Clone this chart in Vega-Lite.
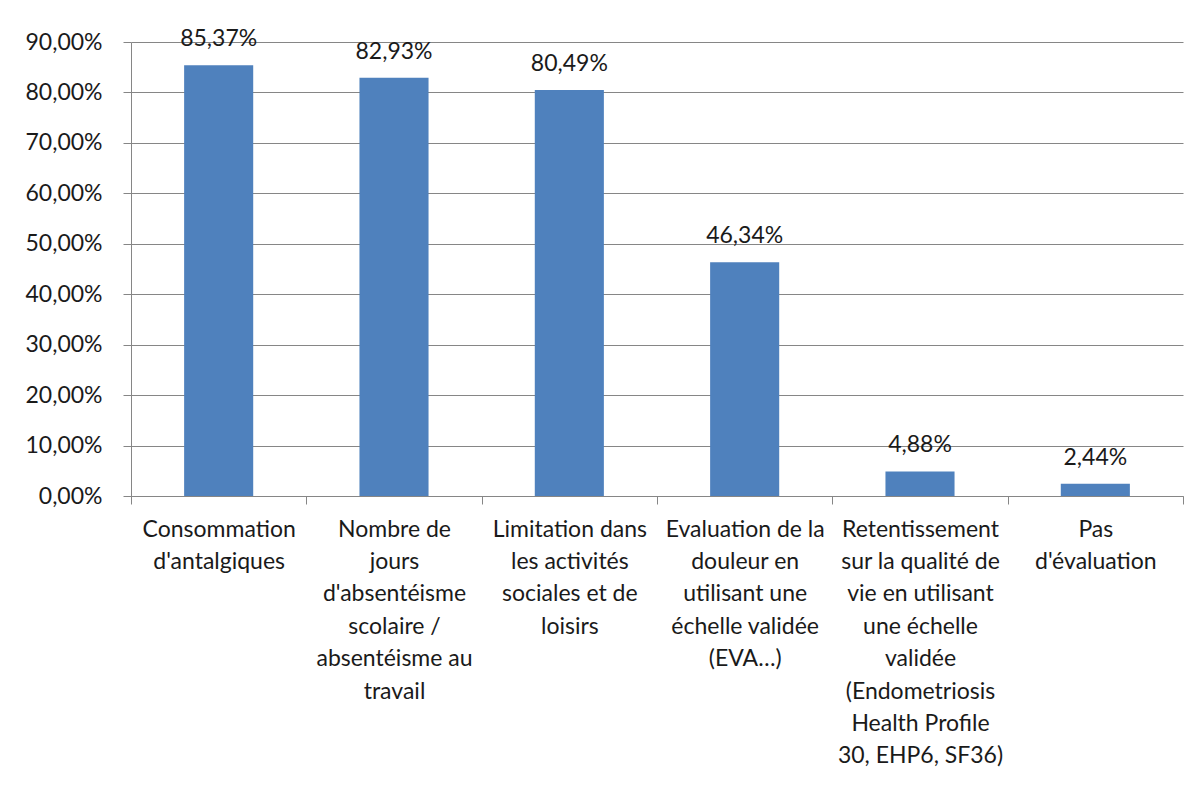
{
  "$schema": "https://vega.github.io/schema/vega-lite/v6.json",
  "autosize": {"type": "none"},
  "padding": {"left": 131, "top": 42, "right": 16, "bottom": 289},
  "width": 1052,
  "height": 454,
  "background": "white",
  "config": {
    "locale": {"number": {"decimal": ",", "thousands": " ", "grouping": [3], "currency": ["", " €"]}},
    "view": {"stroke": null},
    "font": "Lato",
    "axis": {"labelFont": "Lato", "labelFontSize": 23, "labelColor": "#1a1a1a", "domainColor": "#868686", "tickColor": "#868686", "gridColor": "#868686", "tickSize": 8, "domainWidth": 1, "tickWidth": 1, "gridWidth": 1}
  },
  "data": {
    "values": [
      {"categorie": "Consommation|d'antalgiques", "pourcentage": 0.8537},
      {"categorie": "Nombre de|jours|d'absentéisme|scolaire /|absentéisme au|travail", "pourcentage": 0.8293},
      {"categorie": "Limitation dans|les activités|sociales et de|loisirs", "pourcentage": 0.8049},
      {"categorie": "Evaluation de la|douleur en|utilisant une|échelle validée|(EVA…)", "pourcentage": 0.4634},
      {"categorie": "Retentissement|sur la qualité de|vie en utilisant|une échelle|validée|(Endometriosis|Health Profile|30, EHP6, SF36)", "pourcentage": 0.0488},
      {"categorie": "Pas|d'évaluation", "pourcentage": 0.0244}
    ]
  },
  "encoding": {
    "x": {
      "field": "categorie", "type": "nominal", "sort": null,
      "scale": {"paddingInner": 0, "paddingOuter": 0},
      "axis": {"title": null, "labelAngle": 0, "tickBand": "extent", "labelPadding": 14, "labelBaseline": "top", "labelLineHeight": 32.4, "labelExpr": "isValid(datum.value) ? split(datum.value, '|') : ''", "grid": false}
    },
    "y": {
      "field": "pourcentage", "type": "quantitative",
      "scale": {"domain": [0, 0.9], "nice": false},
      "axis": {"title": null, "values": [0, 0.1, 0.2, 0.3, 0.4, 0.5, 0.6, 0.7, 0.8, 0.9], "format": ".2%", "labelPadding": 21, "grid": true}
    }
  },
  "layer": [
    {"mark": {"type": "bar", "color": "#4F81BD", "width": {"band": 0.394}}},
    {"mark": {"type": "text", "baseline": "bottom", "dy": -14, "fontSize": 23, "color": "#1a1a1a", "font": "Lato"},
     "encoding": {"text": {"field": "pourcentage", "type": "quantitative", "format": ".2%"}}}
  ]
}
